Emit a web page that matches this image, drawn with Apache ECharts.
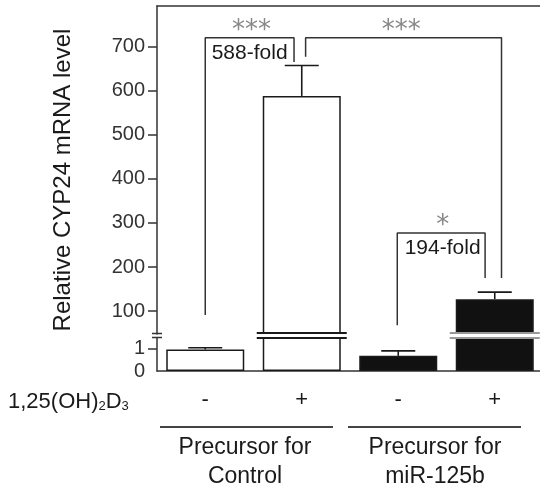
<!DOCTYPE html>
<html lang="en">
<head>
<meta charset="UTF-8">
<title>CYP24 mRNA</title>
<style>
	body { margin: 0; padding: 0; background: #fff; }
	#main { width: 540px; height: 490px; }
</style>
<script src="https://cdn.jsdelivr.net/npm/echarts@6.0.0/dist/echarts.min.js"></script>
</head>
<body>
<div id="main"></div>
<script>
	var categories = ['-', '+', '-', '+'];
	var groupNames = ['Precursor for\nControl', 'Precursor for\nmiR-125b'];
	var means = [0.95, 588, 0.67, 127];
	var sds = [0.08, 69, 0.22, 16];
	var barColors = ['#fff', '#fff', '#111', '#111'];
	var upperTicks = [100, 200, 300, 400, 500, 600, 700];
	var lowerTicks = [1];
	var lowerLabels = [0, 1];
	var lowerMax = 1.46;
	var upperMin = 48;
	var upperMax = 792;

	// significance brackets, [position along the 4 bands, value]
	var bracket1 = [[0.50, 91], [0.50, 720], [1.42, 720], [1.42, 665]];
	var bracket2 = [[1.54, 677], [1.54, 720], [3.57, 720], [3.57, 175]];
	var bracket3 = [[2.49, 68], [2.49, 277], [3.40, 277], [3.40, 175]];
	var starMarks = [['***', 0.98, 749], ['***', 2.53, 749], ['*', 2.96, 307]];
	var foldMarks = [['588-fold', 0.96, 686], ['194-fold', 2.96, 243]];

	var FONT = '"Liberation Sans", Arial, sans-serif';
	var INK = '#1a1a1a';

	var chart = echarts.init(document.getElementById('main'));

	function barData(upper) {
		return means.map(function (v, i) {
			if (upper && v <= lowerMax) return '-';
			return {value: v, itemStyle: {color: barColors[i]}};
		});
	}

	function errData(upper) {
		var res = [];
		for (var i = 0; i < means.length; i++) {
			if ((means[i] > lowerMax) === upper) res.push([i, means[i], means[i] + sds[i]]);
		}
		return res;
	}

	function renderErr(params, api) {
		var base = api.coord([api.value(0), api.value(1)]);
		var top = api.coord([api.value(0), api.value(2)]);
		var st = {stroke: INK, lineWidth: 1.6};
		return {type: 'group', children: [
			{type: 'line', shape: {x1: top[0], y1: base[1], x2: top[0], y2: top[1]}, style: st},
			{type: 'line', shape: {x1: top[0] - 17, y1: top[1], x2: top[0] + 17, y2: top[1]}, style: st}
		]};
	}

	// white stripe where a bar crosses the axis break
	function renderBreak(params, api) {
		var i = api.value(0);
		var p = api.coord([i, lowerMax]);
		var c = barColors[i] === '#fff' ? INK : '#999';
		var half = 39;
		return {type: 'group', children: [
			{type: 'rect', shape: {x: p[0] - half - 1, y: p[1] - 5, width: 2 * half + 2, height: 5}, style: {fill: '#fff'}},
			{type: 'line', shape: {x1: p[0] - half - 6, y1: p[1] - 5, x2: p[0] + half + 6, y2: p[1] - 5}, style: {stroke: c, lineWidth: 1.8}},
			{type: 'line', shape: {x1: p[0] - half - 6, y1: p[1], x2: p[0] + half + 6, y2: p[1]}, style: {stroke: c, lineWidth: 1.8}}
		]};
	}

	function bracketSeries(data) {
		return {
			type: 'line', xAxisIndex: 2, yAxisIndex: 0, data: data,
			symbol: 'none', silent: true, z: 5,
			lineStyle: {color: '#333', width: 1.5}
		};
	}

	function textSeries(marks, color, size, family, dy) {
		return {
			type: 'scatter', xAxisIndex: 2, yAxisIndex: 0, symbolSize: 0, z: 6,
			itemStyle: {opacity: 1},
			data: marks.map(function (m) { return {name: m[0], value: [m[1], m[2]]}; }),
			label: {
				show: true, position: 'inside', formatter: '{b}', offset: [0, dy],
				color: color, fontSize: size, fontFamily: family,
				textBorderWidth: 0, textBorderColor: 'transparent'
			}
		};
	}

	var axisLineStyle = {color: '#333', width: 1.5};

	var option = {
		animation: false,
		grid: [
			{left: 157, top: 6, width: 386, height: 328, outerBoundsMode: 'none'},
			{left: 157, top: 338, width: 386, height: 33, outerBoundsMode: 'none'}
		],
		xAxis: [
			{type: 'category', gridIndex: 0, data: categories, position: 'top',
				axisLine: {lineStyle: axisLineStyle}, axisTick: {show: false}, axisLabel: {show: false}},
			{type: 'category', gridIndex: 1, data: categories, position: 'bottom',
				axisLine: {lineStyle: axisLineStyle}, axisTick: {show: false},
				axisLabel: {color: INK, fontSize: 22, fontFamily: FONT, margin: 18}},
			{type: 'value', gridIndex: 0, min: 0, max: 4, show: false}
		],
		yAxis: [
			{type: 'value', gridIndex: 0, min: upperMin, max: upperMax,
				splitLine: {show: false},
				axisLine: {show: true, lineStyle: axisLineStyle},
				axisTick: {show: true, length: 9, customValues: upperTicks, lineStyle: axisLineStyle},
				axisLabel: {customValues: upperTicks, color: '#333', fontSize: 20, fontFamily: FONT, margin: 12}},
			{type: 'value', gridIndex: 1, min: 0, max: lowerMax,
				splitLine: {show: false},
				axisLine: {show: true, lineStyle: axisLineStyle},
				axisTick: {show: true, length: 9, customValues: lowerTicks, lineStyle: axisLineStyle},
				axisLabel: {customValues: lowerLabels, color: '#333', fontSize: 20, fontFamily: FONT, margin: 12}}
		],
		series: [
			{type: 'bar', xAxisIndex: 0, yAxisIndex: 0, barWidth: 78, data: barData(true),
				itemStyle: {borderColor: INK, borderWidth: 1.5}},
			{type: 'bar', xAxisIndex: 1, yAxisIndex: 1, barWidth: 78, data: barData(false),
				itemStyle: {borderColor: INK, borderWidth: 1.5}},
			{type: 'custom', xAxisIndex: 0, yAxisIndex: 0, renderItem: renderErr,
				data: errData(true), encode: {x: 0, y: [1, 2]}, z: 4},
			{type: 'custom', xAxisIndex: 1, yAxisIndex: 1, renderItem: renderErr,
				data: errData(false), encode: {x: 0, y: [1, 2]}, z: 4},
			{type: 'custom', xAxisIndex: 1, yAxisIndex: 1, renderItem: renderBreak, z: 4,
				data: means.map(function (v, i) { return [i, v]; }).filter(function (d) { return d[1] > lowerMax; }),
				encode: {x: 0, y: 1}},
			bracketSeries(bracket1),
			bracketSeries(bracket2),
			bracketSeries(bracket3),
			textSeries(starMarks, '#888', 26, '"DejaVu Sans", sans-serif', 6),
			textSeries(foldMarks, INK, 21, FONT, 0)
		],
		graphic: [
			{type: 'text', x: 63, y: 180, rotation: Math.PI / 2,
				style: {text: 'Relative CYP24 mRNA level', font: '24px ' + FONT, fill: INK, align: 'center', verticalAlign: 'middle'}},
			{type: 'text', x: 8, y: 400,
				style: {
					text: '{a|1,25(OH)}{s|2}{a|D}{s|3}', fill: INK, verticalAlign: 'middle',
					rich: {
						a: {fontSize: 22, fontFamily: FONT, color: INK, lineHeight: 26, verticalAlign: 'bottom'},
						s: {fontSize: 13, fontFamily: FONT, color: INK, lineHeight: 24, verticalAlign: 'bottom'}
					}
				}},
			{type: 'line', shape: {x1: 160, y1: 427, x2: 333, y2: 427}, style: {stroke: '#444', lineWidth: 2}},
			{type: 'line', shape: {x1: 348, y1: 427, x2: 521, y2: 427}, style: {stroke: '#444', lineWidth: 2}},
			{type: 'text', x: 245, y: 462,
				style: {text: groupNames[0], font: '23px ' + FONT, fill: INK, align: 'center', verticalAlign: 'middle', lineHeight: 29}},
			{type: 'text', x: 435, y: 462,
				style: {text: groupNames[1], font: '23px ' + FONT, fill: INK, align: 'center', verticalAlign: 'middle', lineHeight: 29}},
			// break marks on the value axis
			{type: 'line', shape: {x1: 152, y1: 333.5, x2: 162, y2: 333.5}, style: {stroke: '#333', lineWidth: 1.5}},
			{type: 'line', shape: {x1: 152, y1: 337.5, x2: 162, y2: 337.5}, style: {stroke: '#333', lineWidth: 1.5}}
		]
	};
	chart.setOption(option);
</script>
</body>
</html>
